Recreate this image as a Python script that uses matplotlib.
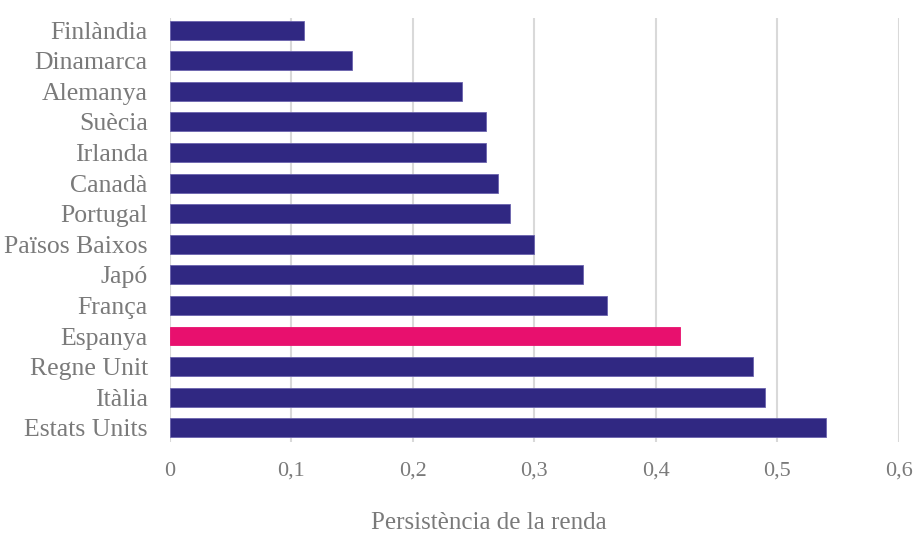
import matplotlib.pyplot as plt
from matplotlib.ticker import FuncFormatter

countries = ['Finlàndia', 'Dinamarca', 'Alemanya', 'Suècia', 'Irlanda', 'Canadà',
             'Portugal', 'Països Baixos', 'Japó', 'França', 'Espanya',
             'Regne Unit', 'Itàlia', 'Estats Units']
persistence = [0.11, 0.15, 0.24, 0.26, 0.26, 0.27, 0.28, 0.30, 0.34, 0.36,
               0.42, 0.48, 0.49, 0.54]
highlight = 'Espanya'

BAR_COLOR = '#302882'
BAR_EDGE = '#6a63ad'
HIGHLIGHT_COLOR = '#E8106E'
TEXT_COLOR = '#7a7a7a'

plt.rcParams['font.family'] = ['Liberation Serif', 'DejaVu Serif']

fig, ax = plt.subplots(figsize=(9.19, 5.34), dpi=100)
fig.subplots_adjust(left=0.185, right=0.978, top=0.966, bottom=0.172)

colors = [HIGHLIGHT_COLOR if c == highlight else BAR_COLOR for c in countries]
edges = [HIGHLIGHT_COLOR if c == highlight else BAR_EDGE for c in countries]
ax.barh(range(len(countries)), persistence, height=0.62, color=colors,
        edgecolor=edges, linewidth=0.6, zorder=3)

ax.set_yticks(range(len(countries)))
ax.set_yticklabels(countries, fontsize=18.5, color=TEXT_COLOR)
ax.set_ylim(13.47, -0.39)

ax.set_xlim(0, 0.6)
ax.set_xticks([0, 0.1, 0.2, 0.3, 0.4, 0.5, 0.6])
ax.xaxis.set_major_formatter(FuncFormatter(lambda v, p: ('%g' % round(v, 1)).replace('.', ',')))
ax.tick_params(axis='x', labelsize=16, colors=TEXT_COLOR, length=0, pad=14)
ax.tick_params(axis='y', length=0, pad=16)
ax.grid(axis='x', color='#d9d9d9', linewidth=1.5, zorder=0)

for s in ax.spines.values():
    s.set_visible(False)

ax.set_xlabel('Persistència de la renda', fontsize=18, color=TEXT_COLOR)
ax.xaxis.set_label_coords(0.4376, -0.165)

fig.savefig('out.png', dpi=100)
